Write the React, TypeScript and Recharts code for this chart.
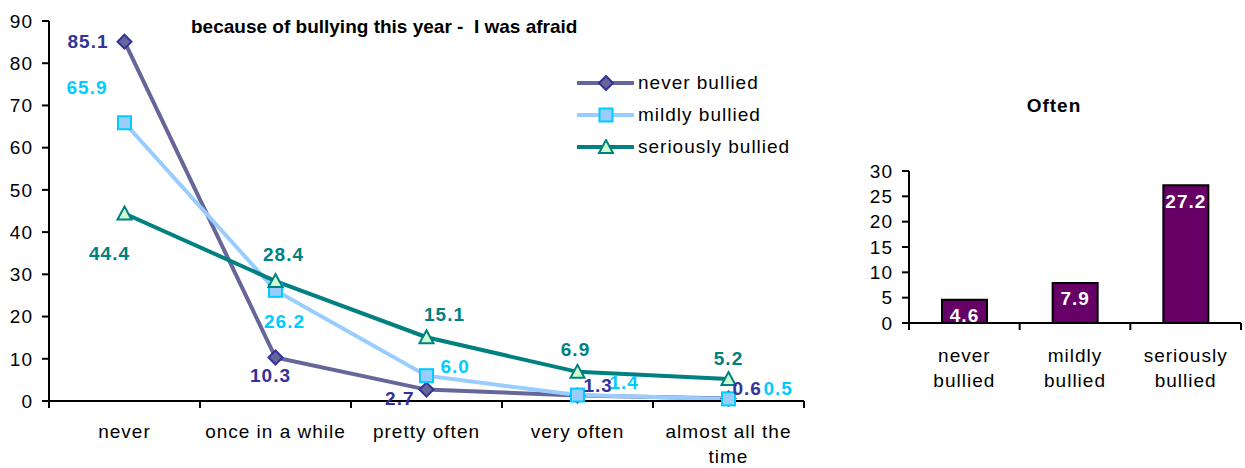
import React from "react";
import { Bar, BarChart, LabelList, Line, LineChart, XAxis, YAxis } from "recharts";

const FONT = '"Liberation Sans", Arial, Helvetica, sans-serif';

// left chart: "because of bullying this year - I was afraid"
const categories = ["never", "once in a while", "pretty often", "very often", "almost all the time"];
const neverBullied = [85.1, 10.3, 2.7, 1.3, 0.6];
const mildlyBullied = [65.9, 26.2, 6.0, 1.4, 0.5];
const seriouslyBullied = [44.4, 28.4, 15.1, 6.9, 5.2];
const afraidTicks = [0, 10, 20, 30, 40, 50, 60, 70, 80, 90];

// right chart: "Often"
const groups = ["never bullied", "mildly bullied", "seriously bullied"];
const oftenValues = [4.6, 7.9, 27.2];
const oftenTicks = [0, 5, 10, 15, 20, 25, 30];

// where each data label sits next to its point (Excel placed them by hand)
type Place = { dx: number; dy: number; anchor: "start" | "middle" | "end" };
const labelPlaces: Record<string, Place[]> = {
  never: [
    { dx: -16, dy: 0, anchor: "end" },
    { dx: -5, dy: 18, anchor: "middle" },
    { dx: -12, dy: 9, anchor: "end" },
    { dx: 6, dy: -10, anchor: "start" },
    { dx: 4, dy: -10, anchor: "start" },
  ],
  mildly: [
    { dx: -17, dy: -35, anchor: "end" },
    { dx: 9, dy: 31, anchor: "middle" },
    { dx: 14, dy: -9, anchor: "start" },
    { dx: 32, dy: -13, anchor: "start" },
    { dx: 35, dy: -10, anchor: "start" },
  ],
  seriously: [
    { dx: -15, dy: 40, anchor: "middle" },
    { dx: 8, dy: -27, anchor: "middle" },
    { dx: 18, dy: -23, anchor: "middle" },
    { dx: -2, dy: -22, anchor: "middle" },
    { dx: 0, dy: -21, anchor: "middle" },
  ],
};

const lineData = categories.map((c, i) => ({
  cat: c,
  pos: i + 0.5,
  never: neverBullied[i],
  mildly: mildlyBullied[i],
  seriously: seriouslyBullied[i],
}));

const barData = groups.map((g, i) => ({ group: g, pos: i + 0.5, value: oftenValues[i] }));

const halfTicks = (n: number) => Array.from({ length: 2 * n + 1 }, (_, i) => i / 2);

function wrapWords(text: string, maxChars: number) {
  const lines: string[] = [];
  let cur = "";
  text.split(" ").forEach((w) => {
    const next = cur ? cur + " " + w : w;
    if (next.length > maxChars && cur) {
      lines.push(cur);
      cur = w;
    } else cur = next;
  });
  if (cur) lines.push(cur);
  return lines;
}

// integer ticks = tick marks between categories, half ticks = category names
function makeBandTick(labels: string[], maxChars: number, baseline: number) {
  return (props: any) => {
    const { x, y, payload } = props;
    const v = payload.value;
    if (Number.isInteger(v)) {
      return <line x1={x} x2={x} y1={y} y2={y + 7} stroke="#000" strokeWidth={2} />;
    }
    const lines = wrapWords(labels[Math.floor(v)], maxChars);
    return (
      <text x={x} y={y + baseline} textAnchor="middle" fill="#000" fontSize={19} letterSpacing={1}>
        {lines.map((l, i) => (
          <tspan key={i} x={x} dy={i === 0 ? 0 : 25}>
            {l}
          </tspan>
        ))}
      </text>
    );
  };
}

const Diamond = ({ cx, cy }: { cx: number; cy: number }) => (
  <polygon
    points={`${cx},${cy - 7} ${cx + 7},${cy} ${cx},${cy + 7} ${cx - 7},${cy}`}
    fill="#666699"
    stroke="#333399"
    strokeWidth={2}
  />
);
const Square = ({ cx, cy }: { cx: number; cy: number }) => (
  <rect x={cx - 6.5} y={cy - 6.5} width={13} height={13} fill="#99CCFF" stroke="#00CCFF" strokeWidth={2} />
);
const Triangle = ({ cx, cy }: { cx: number; cy: number }) => (
  <polygon
    points={`${cx},${cy - 7} ${cx + 7},${cy + 6} ${cx - 7},${cy + 6}`}
    fill="#CCFFCC"
    stroke="#008080"
    strokeWidth={2}
  />
);

const series = [
  { key: "never", name: "never bullied", line: "#666699", text: "#333399", Marker: Diamond },
  { key: "mildly", name: "mildly bullied", line: "#99CCFF", text: "#00CCFF", Marker: Square },
  { key: "seriously", name: "seriously bullied", line: "#008080", text: "#008080", Marker: Triangle },
];

const makeLabel = (key: string, color: string) => (props: any) => {
  const x = props.x ?? props.viewBox?.x;
  const y = props.y ?? props.viewBox?.y;
  const p = labelPlaces[key][props.index];
  if (x == null || !p) return null;
  return (
    <text
      x={x + p.dx}
      y={y + p.dy}
      textAnchor={p.anchor}
      dominantBaseline="central"
      fill={color}
      fontSize={19}
      fontWeight="bold"
      letterSpacing={1}
    >
      {Number(props.value).toFixed(1)}
    </text>
  );
};

const axisStroke = { stroke: "#000", strokeWidth: 2 };
const tickFont = { fill: "#000", fontSize: 19, letterSpacing: 1 };

export default function App() {
  return (
    <div
      style={{
        position: "absolute",
        left: 0,
        top: 0,
        width: 1245,
        height: 468,
        background: "#fff",
        fontFamily: FONT,
        overflow: "hidden",
      }}
    >
      <div
        style={{
          position: "absolute",
          left: 191,
          top: 17,
          fontSize: 19,
          lineHeight: "19px",
          fontWeight: "bold",
          whiteSpace: "pre",
          color: "#000",
        }}
      >
        {"because of bullying this year -  I was afraid"}
      </div>

      <div style={{ position: "absolute", left: 0, top: 0 }}>
        <LineChart width={820} height={468} data={lineData} margin={{ top: 21, right: 16, left: 0, bottom: 0 }}>
          <XAxis
            dataKey="pos"
            type="number"
            domain={[0, categories.length]}
            ticks={halfTicks(categories.length)}
            interval={0}
            tickSize={0}
            tickMargin={0}
            tickLine={false}
            axisLine={axisStroke}
            tick={makeBandTick(categories, 15, 37)}
            height={67}
          />
          <YAxis
            domain={[0, 90]}
            ticks={afraidTicks}
            interval={0}
            width={49}
            tickSize={7}
            tickMargin={9}
            axisLine={axisStroke}
            tickLine={axisStroke}
            tick={tickFont}
          />
          {series.map((s) => (
            <Line
              key={s.key}
              type="linear"
              dataKey={s.key}
              stroke={s.line}
              strokeWidth={4}
              isAnimationActive={false}
              dot={(p: any) => <s.Marker key={`${s.key}-${p.index}`} cx={p.cx} cy={p.cy} />}
              activeDot={false}
            >
              <LabelList dataKey={s.key} content={makeLabel(s.key, s.text)} />
            </Line>
          ))}
        </LineChart>
      </div>

      {/* legend */}
      <div style={{ position: "absolute", left: 577, top: 67 }}>
        {series.map((s) => (
          <div key={s.key} style={{ display: "flex", alignItems: "center", height: 32 }}>
            <svg width={57} height={16} style={{ marginRight: 4 }}>
              <line x1={1} x2={56} y1={8} y2={8} stroke={s.line} strokeWidth={4} strokeLinecap="round" />
              <s.Marker cx={29} cy={8} />
            </svg>
            <span style={{ fontSize: 19, color: "#000", letterSpacing: 1 }}>{s.name}</span>
          </div>
        ))}
      </div>

      <div
        style={{
          position: "absolute",
          left: 954,
          width: 200,
          top: 96,
          textAlign: "center",
          fontSize: 19,
          lineHeight: "19px",
          fontWeight: "bold",
          letterSpacing: 1,
        }}
      >
        Often
      </div>

      <div style={{ position: "absolute", left: 840, top: 0 }}>
        <BarChart width={405} height={468} data={barData} margin={{ top: 171, right: 4, left: 0, bottom: 0 }}>
          <XAxis
            dataKey="pos"
            type="number"
            domain={[0, groups.length]}
            ticks={halfTicks(groups.length)}
            interval={0}
            tickSize={0}
            tickMargin={0}
            tickLine={false}
            axisLine={axisStroke}
            tick={makeBandTick(groups, 9, 39)}
            height={145}
          />
          <YAxis
            domain={[0, 30]}
            ticks={oftenTicks}
            interval={0}
            width={69}
            tickSize={7}
            tickMargin={9}
            axisLine={axisStroke}
            tickLine={axisStroke}
            tick={tickFont}
          />
          <Bar dataKey="value" fill="#660066" stroke="#000" strokeWidth={2} barSize={45} isAnimationActive={false}>
            <LabelList
              dataKey="value"
              position="insideTop"
              offset={9}
              fill="#fff"
              fontSize={19}
              fontWeight="bold"
              letterSpacing={1}
              formatter={(v: any) => Number(v).toFixed(1)}
            />
          </Bar>
        </BarChart>
      </div>
    </div>
  );
}
